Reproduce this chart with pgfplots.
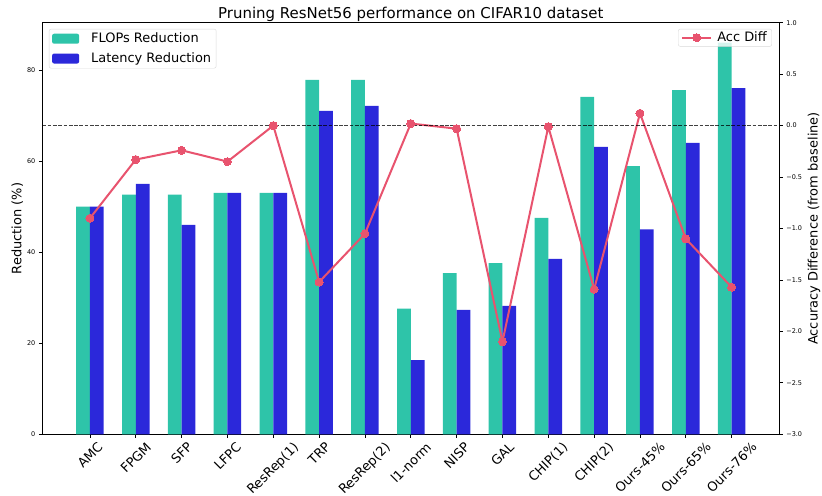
\documentclass[border=0pt]{standalone}
\usepackage{pgfplots}
\pgfplotsset{compat=1.18}
\usepackage{pgfplotstable}
\usepackage{fontspec}
\setmainfont{DejaVu Sans}
\usepackage{graphicx}
\definecolor{cteal}{RGB}{46,196,169}
\definecolor{cblue}{RGB}{43,40,218}
\definecolor{cpink}{RGB}{232,83,110}
\newcommand{\rl}[1]{\rotatebox{45}{#1}}
\pgfplotstableread{
x flops lat acc
0 50.0 50.0 -0.90
1 52.6 55.0 -0.33
2 52.6 46.0 -0.24
3 53.0 53.0 -0.35
4 53.0 53.0 0.00
5 77.8 71.0 -1.52
6 77.8 72.1 -1.05
7 27.6 16.3 0.02
8 35.4 27.3 -0.03
9 37.6 28.2 -2.10
10 47.5 38.5 -0.01
11 74.1 63.1 -1.59
12 58.9 45.0 0.12
13 75.6 64.0 -1.10
14 86.0 76.0 -1.57
}\mydata
\begin{document}
\begin{tikzpicture}
\begin{axis}[
  name=main,
  scale only axis, width=737bp, height=411.6bp,
  xmin=-1.04, xmax=15.04, ymin=0, ymax=90.38,
  xtick={0,...,14},
  xticklabels={\rl{AMC},\rl{FPGM},\rl{SFP},\rl{LFPC},\rl{ResRep(1)},\rl{TRP},\rl{ResRep(2)},\rl{l1-norm},\rl{NISP},\rl{GAL},\rl{CHIP(1)},\rl{CHIP(2)},\rl{Ours-45\%},\rl{Ours-65\%},\rl{Ours-76\%}},
  xticklabel style={font=\fontsize{13}{15}\selectfont, anchor=north},
  ytick={0,20,40,60,80}, yticklabels={0,20,40,60,80},
  yticklabel style={font=\fontsize{6.5}{7}\selectfont},
  tick align=outside, xtick pos=bottom, ytick pos=left,
  major tick length=3.5bp,
  tick style={black, line width=0.8bp},
  axis line style={line width=1.2bp},
  title={Pruning ResNet56 performance on CIFAR10 dataset},
  title style={font=\fontsize{15}{17}\selectfont, at={(axis description cs:0.5,1)}, anchor=base, yshift=-1.5bp},
  ylabel={Reduction (\%)},
  every axis y label/.style={at={(axis description cs:-0.034,0.5)}, anchor=center, rotate=90, font=\fontsize{13}{15}\selectfont},
  legend style={at={(0.009,0.985)}, anchor=north west, font=\fontsize{13}{15}\selectfont, draw=black!15, rounded corners=2bp, fill=white, fill opacity=0.8, text opacity=1, inner xsep=3bp, inner ysep=2bp, row sep=4.5bp, /tikz/every odd column/.append style={column sep=10bp}},
  legend cell align=left,
  legend image code/.code={\fill[#1, draw=none, fill opacity=1] (0bp,-5bp) rectangle (27bp,5bp);},
]
\addplot[ybar, bar width=0.3, bar shift=-0.15, fill=cteal, draw=none] table[x=x,y=flops]{\mydata};
\addlegendentry{FLOPs Reduction}
\addplot[ybar, bar width=0.3, bar shift=0.15, fill=cblue, draw=none] table[x=x,y=lat]{\mydata};
\addlegendentry{Latency Reduction}
\end{axis}
\begin{axis}[
  scale only axis, width=737bp, height=411.6bp,
  xmin=-1.04, xmax=15.04, ymin=-3, ymax=1,
  axis x line=none, axis y line*=right,
  ytick={-3,-2.5,-2,-1.5,-1,-0.5,0,0.5,1},
  yticklabels={−3.0,−2.5,−2.0,−1.5,−1.0,−0.5,0.0,0.5,1.0},
  yticklabel style={font=\fontsize{6.5}{7}\selectfont},
  tick align=outside, ytick pos=right,
  major tick length=3.5bp,
  tick style={black, line width=0.8bp},
  axis line style={line width=1.2bp},
  ylabel={Accuracy Difference (from baseline)},
  every axis y label/.style={at={(axis description cs:1.0471,0.5)}, anchor=center, rotate=90, font=\fontsize{13}{15}\selectfont},
  legend style={at={(0.99,0.985)}, anchor=north east, font=\fontsize{13}{15}\selectfont, draw=black!15, rounded corners=2bp, fill=white, fill opacity=0.8, text opacity=1, inner xsep=3bp, inner ysep=1bp, /tikz/every odd column/.append style={column sep=3bp}},
  legend image code/.code={\draw[mark repeat=2,mark phase=2,#1, opacity=1] plot coordinates {(0bp,0bp) (14.5bp,0bp) (29bp,0bp)};},
]
\addplot[color=cpink, line width=2bp, mark=*, mark size=4bp, mark options={fill=cpink, draw=cpink, line width=0bp}] table[x=x,y=acc]{\mydata};
\addlegendentry{Acc Diff}
\addplot[black, opacity=0.75, line width=1bp, dash pattern=on 3.7bp off 1.6bp, forget plot] coordinates {(-1.04,0) (15.04,0)};
\end{axis}
\pgfresetboundingbox
\path ([xshift=-42.3bp,yshift=-61.7bp]main.south west) rectangle ([xshift=42.7bp,yshift=22.7bp]main.north east);
\end{tikzpicture}
\end{document}
